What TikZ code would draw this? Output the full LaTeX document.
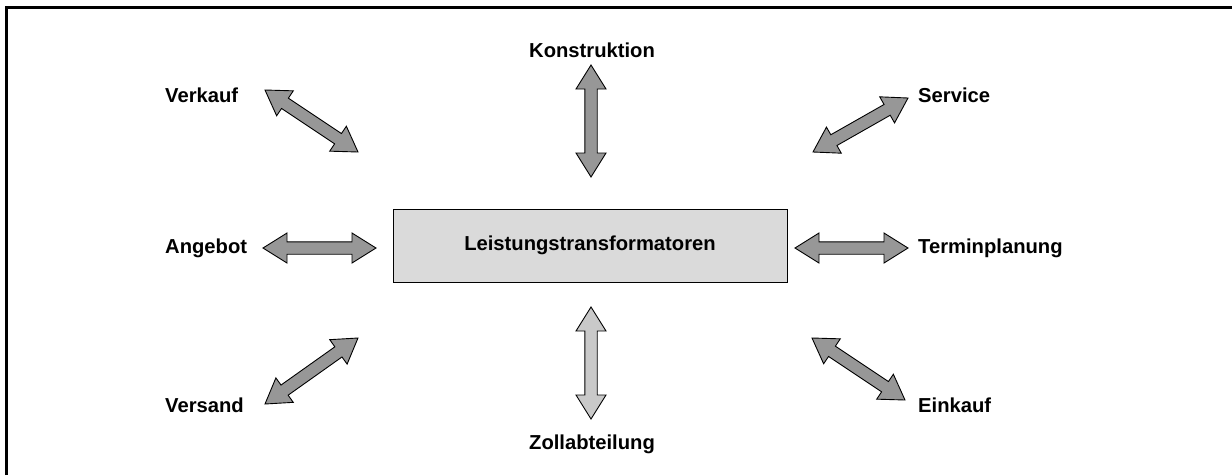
\documentclass[tikz,border=0pt]{standalone}
\usepackage{fontspec}
\setmainfont{Liberation Sans}
\usetikzlibrary{calc}
\definecolor{arrgray}{HTML}{979797}
\definecolor{arrlight}{HTML}{C9C9C9}
\definecolor{boxgray}{HTML}{DADADA}
\newcommand\dblarr[3]{%
  \coordinate (#1h) at ($(#1)!24pt!(#2)$);
  \coordinate (#2h) at ($(#2)!24pt!(#1)$);
  \path[arrowshape,fill=#3] (#1)
    -- ($(#1h)!15pt!90:(#2)$) -- ($(#1h)!6.2pt!90:(#2)$)
    -- ($(#2h)!6.2pt!-90:(#1)$) -- ($(#2h)!15pt!-90:(#1)$)
    -- (#2)
    -- ($(#2h)!15pt!90:(#1)$) -- ($(#2h)!6.2pt!90:(#1)$)
    -- ($(#1h)!6.2pt!-90:(#2)$) -- ($(#1h)!15pt!-90:(#2)$)
    -- cycle;}
\begin{document}
\begin{tikzpicture}[x=1pt,y=-1pt,
  lbl/.style={font=\fontsize{20.2}{24}\selectfont\bfseries, inner sep=0pt},
  arrowshape/.style={draw=black, line width=0.9pt, line join=miter},
  frameline/.style={line width=2.2pt, black}]
\useasboundingbox (0,0) rectangle (1232,475);
% frame
\coordinate (fr1) at (6.5,475);
\coordinate (fr2) at (6.5,7.5);
\coordinate (fr3) at (1232,7.5);
\draw[frameline] (fr1) -- (fr2) -- (fr3);
% central box
\node[draw=black, line width=0.9pt, fill=boxgray, minimum width=394pt, minimum height=73pt,
  font=\fontsize{20.2}{24}\selectfont\bfseries] (center) at (590,245.5) {Leistungstransformatoren};
% labels
\node[lbl] (konstr) at (592,50) {Konstruktion};
\node[lbl] (zoll) at (592,444) {Zollabteilung};
\node[lbl, anchor=west] (verkauf) at (165,95) {Verkauf};
\node[lbl, anchor=west] (angebot) at (165,248) {Angebot};
\node[lbl, anchor=west] (versand) at (165,405) {Versand};
\node[lbl, anchor=west] (service) at (918,95) {Service};
\node[lbl, anchor=west] (termin) at (918,248) {Terminplanung};
\node[lbl, anchor=west] (einkauf) at (918,405) {Einkauf};
% arrow end points
\coordinate (ka) at (591,65);   \coordinate (kb) at (591,177);
\coordinate (za) at (591,307);  \coordinate (zb) at (591,419);
\coordinate (aa) at (263,248);  \coordinate (ab) at (376,248);
\coordinate (ta) at (795,248);  \coordinate (tb) at (908,248);
\coordinate (va) at (265,90);   \coordinate (vb) at (358,152);
\coordinate (sa) at (813,152);  \coordinate (sb) at (908,98);
\coordinate (ea) at (812,338);  \coordinate (eb) at (905,400);
\coordinate (xa) at (265,404);  \coordinate (xb) at (358,338);
\dblarr{ka}{kb}{arrgray}
\dblarr{za}{zb}{arrlight}
\dblarr{aa}{ab}{arrgray}
\dblarr{ta}{tb}{arrgray}
\dblarr{va}{vb}{arrgray}
\dblarr{sa}{sb}{arrgray}
\dblarr{ea}{eb}{arrgray}
\dblarr{xa}{xb}{arrgray}
\end{tikzpicture}
\end{document}
